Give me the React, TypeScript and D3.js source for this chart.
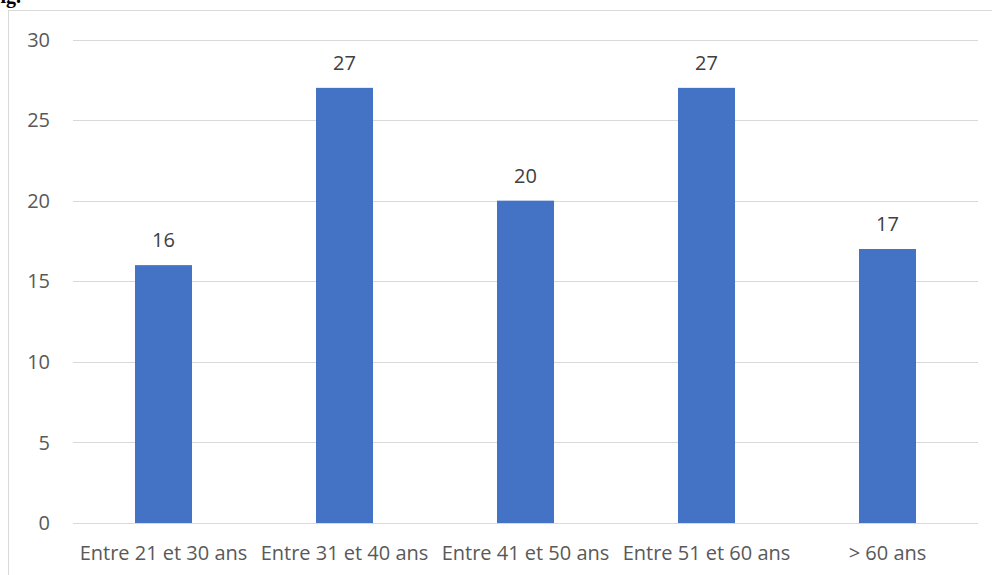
import React from "react";
import * as d3 from "d3";

const categories = [
  "Entre 21 et 30 ans",
  "Entre 31 et 40 ans",
  "Entre 41 et 50 ans",
  "Entre 51 et 60 ans",
  "> 60 ans",
];
const values = [16, 27, 20, 27, 17];
const yTicks = [0, 5, 10, 15, 20, 25, 30];

const W = 992;
const H = 575;
const plot = { left: 73, right: 978, top: 39.5, bottom: 523 };
const FONT = "'Open Sans', sans-serif";
const FS = 20;

export default function App() {
  const x = d3
    .scaleBand<string>()
    .domain(categories)
    .range([plot.left, plot.right])
    .paddingInner(0.685)
    .paddingOuter(0.3425);
  const y = d3.scaleLinear().domain([0, 30]).range([plot.bottom, plot.top]);

  return (
    <svg
      width={W}
      height={H}
      style={{ position: "absolute", left: 0, top: 0, background: "#fff" }}
    >
      {/* caption fragment above the chart frame */}
      <text
        x={21}
        y={3}
        textAnchor="end"
        fontFamily="'Liberation Serif', 'Times New Roman', serif"
        fontWeight="bold"
        fontSize={20}
        fill="#000"
      >
        Fig.
      </text>

      {/* chart frame */}
      <rect
        x={8.5}
        y={10.5}
        width={W + 10}
        height={H + 10}
        fill="none"
        stroke="#d9d9d9"
        strokeWidth={1}
      />

      {/* gridlines */}
      {yTicks.map((t) => (
        <line
          key={"g" + t}
          x1={plot.left}
          x2={plot.right}
          y1={Math.round(y(t)) + 0.5}
          y2={Math.round(y(t)) + 0.5}
          stroke="#d9d9d9"
          strokeWidth={1.2}
        />
      ))}

      {/* y tick labels */}
      {yTicks.map((t) => (
        <text
          key={"t" + t}
          x={50}
          y={y(t)}
          dy="0.36em"
          textAnchor="end"
          fontFamily={FONT}
          fontSize={FS}
          fill="#595959"
        >
          {t}
        </text>
      ))}

      {/* bars */}
      {categories.map((c, i) => (
        <rect
          key={"b" + c}
          x={x(c)}
          y={y(values[i])}
          width={x.bandwidth()}
          height={y(0) - y(values[i])}
          fill="#4472c4"
        />
      ))}

      {/* value labels */}
      {categories.map((c, i) => (
        <text
          key={"v" + c}
          x={(x(c) as number) + x.bandwidth() / 2}
          y={y(values[i]) - 18}
          textAnchor="middle"
          fontFamily={FONT}
          fontSize={FS}
          fill="#404040"
        >
          {values[i]}
        </text>
      ))}

      {/* category labels */}
      {categories.map((c) => (
        <text
          key={"c" + c}
          x={(x(c) as number) + x.bandwidth() / 2}
          y={560}
          textAnchor="middle"
          fontFamily={FONT}
          fontSize={FS}
          fill="#595959"
        >
          {c}
        </text>
      ))}
    </svg>
  );
}
